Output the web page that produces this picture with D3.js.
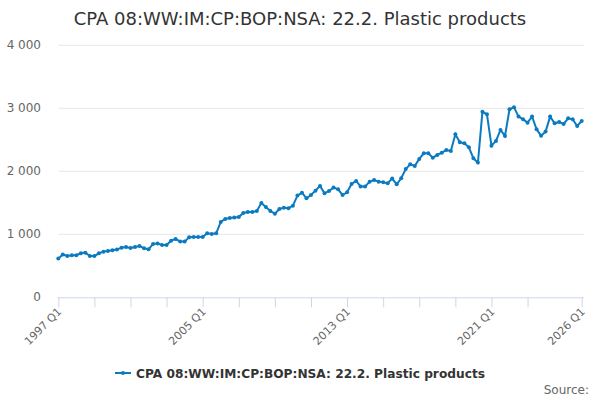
<!DOCTYPE html>
<html>
<head>
<meta charset="utf-8">
<script src="https://cdn.jsdelivr.net/npm/d3@7"></script>
<style>
  body { margin: 0; background: #fff; }
  svg { font-family: "DejaVu Sans", sans-serif; }
</style>
</head>
<body>
<svg id="chart" width="600" height="400"></svg>
<script>
// Quarterly series, 1997 Q1 .. 2026 Q1
var startYear = 1997
var values = [
  614, 680, 656, 667, 667, 698, 709, 656, 656, 698,
  725, 735, 746, 757, 788, 799, 783, 799, 815, 778,
  762, 847, 852, 831, 831, 899, 926, 884, 884, 952,
  958, 958, 958, 1016, 1005, 1016, 1196, 1243, 1259, 1265,
  1275, 1339, 1354, 1354, 1370, 1497, 1434, 1370, 1328, 1402,
  1423, 1413, 1455, 1614, 1661, 1571, 1624, 1693, 1767, 1651,
  1688, 1741, 1714, 1624, 1667, 1799, 1847, 1757, 1757, 1836,
  1862, 1836, 1825, 1810, 1884, 1794, 1889, 2037, 2111, 2085,
  2196, 2286, 2286, 2217, 2259, 2296, 2339, 2323, 2587, 2460,
  2444, 2381, 2206, 2138, 2947, 2905, 2407, 2481, 2656, 2561,
  2984, 3016, 2868, 2825, 2772, 2868, 2667, 2566, 2630, 2868,
  2762, 2783, 2751, 2841, 2825, 2720, 2799
]
var categories = values.map((v, i) => `${startYear + Math.floor(i / 4)} Q${i % 4 + 1}`)
var labelledCategories = ['1997 Q1', '2005 Q1', '2013 Q1', '2021 Q1', '2026 Q1']
var yTicks = [0, 1000, 2000, 3000, 4000]
var title = 'CPA 08:WW:IM:CP:BOP:NSA: 22.2. Plastic products'
var seriesName = 'CPA 08:WW:IM:CP:BOP:NSA: 22.2. Plastic products'

var svg = d3.select('#chart')
var plot = { left: 58.3, right: 581.7, top: 45.3, bottom: 297.3 }
var color = '#0b7bc1'

var x = d3.scalePoint().domain(categories).range([plot.left, plot.right])
var y = d3.scaleLinear().domain([0, 4000]).range([plot.bottom, plot.top])

// title
svg.append('text')
  .attr('x', 300).attr('y', 25)
  .attr('text-anchor', 'middle')
  .attr('fill', '#333').style('font-size', '18px')
  .text(title)

// gridlines + y labels
var fmt = v => d3.format(',')(v).replace(/,/g, ' ')
yTicks.forEach(t => {
  if (t > 0) {
    svg.append('line')
      .attr('x1', plot.left).attr('x2', plot.right + 2)
      .attr('y1', y(t)).attr('y2', y(t))
      .attr('stroke', '#e6e6e6')
  }
  svg.append('text')
    .attr('x', 41).attr('y', y(t) + 4)
    .attr('text-anchor', 'end')
    .attr('fill', '#666').style('font-size', '12px')
    .text(fmt(t))
})

// x axis line and ticks (every 2 years, plus last)
svg.append('line')
  .attr('x1', plot.left - 1).attr('x2', plot.right + 2)
  .attr('y1', plot.bottom + 0.5).attr('y2', plot.bottom + 0.5)
  .attr('stroke', '#ccd6eb')
var tickCats = categories.filter((c, i) => i % 8 === 0 && i <= 104)
tickCats.push(categories[categories.length - 1])
tickCats.forEach(c => {
  svg.append('line')
    .attr('x1', x(c) + 0.5).attr('x2', x(c) + 0.5)
    .attr('y1', plot.bottom).attr('y2', plot.bottom + 10)
    .attr('stroke', '#ccd6eb')
})
labelledCategories.forEach(c => {
  svg.append('text')
    .attr('transform', `translate(${x(c) + 4},${plot.bottom + 15}) rotate(-45)`)
    .attr('text-anchor', 'end')
    .attr('fill', '#666').style('font-size', '11px')
    .text(c)
})

// series line + markers
var line = d3.line()
  .x((d, i) => x(categories[i]))
  .y(d => y(d))
svg.append('path')
  .datum(values)
  .attr('d', line)
  .attr('fill', 'none')
  .attr('stroke', color)
  .attr('stroke-width', 2)
svg.selectAll('circle.pt')
  .data(values)
  .enter().append('circle')
  .attr('class', 'pt')
  .attr('cx', (d, i) => x(categories[i]))
  .attr('cy', d => y(d))
  .attr('r', 2)
  .attr('fill', color)

// legend
var legend = svg.append('g').attr('transform', 'translate(115,373)')
legend.append('line')
  .attr('x1', 0).attr('x2', 16).attr('y1', 0).attr('y2', 0)
  .attr('stroke', color).attr('stroke-width', 2)
legend.append('circle').attr('cx', 8).attr('cy', 0).attr('r', 2).attr('fill', color)
legend.append('text')
  .attr('x', 21).attr('y', 4.5)
  .attr('fill', '#333').style('font-size', '12.2px').style('font-weight', 'bold')
  .text(seriesName)

// credits
svg.append('text')
  .attr('x', 589).attr('y', 394)
  .attr('text-anchor', 'end')
  .attr('fill', '#666').style('font-size', '12px')
  .text('Source:')
</script>
</body>
</html>
